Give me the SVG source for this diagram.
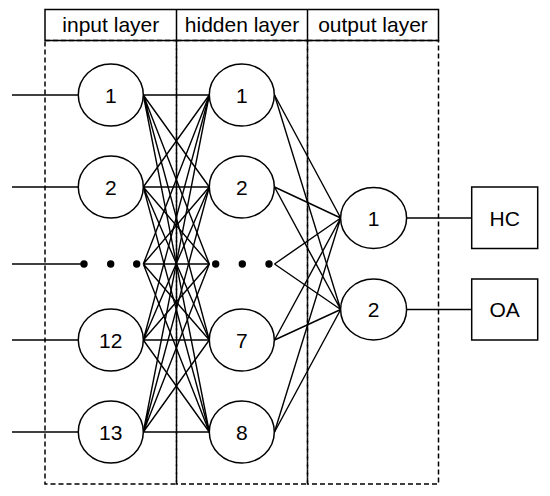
<svg xmlns="http://www.w3.org/2000/svg" width="550" height="496" viewBox="0 0 550 496">
<style>
.n{fill:#fff;stroke:#000;stroke-width:1.5}
.t{font-family:"Liberation Sans",Arial,sans-serif;font-size:21px;fill:#000;text-anchor:middle;dominant-baseline:central}
.h{font-family:"Liberation Sans",Arial,sans-serif;font-size:21px;fill:#000;text-anchor:middle}
.c{stroke:#000;stroke-width:1.4;fill:none}
.d{stroke:#000;stroke-width:1.5;fill:none;stroke-dasharray:5 3}
</style>
<rect width="550" height="496" fill="#fff"/>
<g id="layers">
<rect x="45" y="9.5" width="393.5" height="31" fill="none" stroke="#000" stroke-width="1.5"/>
<line x1="176.5" y1="9.5" x2="176.5" y2="40.5" stroke="#000" stroke-width="1.5"/>
<line x1="307.5" y1="9.5" x2="307.5" y2="40.5" stroke="#000" stroke-width="1.5"/>
<text class="h" x="110.8" y="31.5">input layer</text>
<text class="h" x="242" y="31.5">hidden layer</text>
<text class="h" x="373" y="31.5">output layer</text>
<rect class="d" x="45" y="40.5" width="131.5" height="443.5"/>
<rect class="d" x="176.5" y="40.5" width="131" height="443.5"/>
<rect class="d" x="307.5" y="40.5" width="131" height="443.5"/>
</g>
<g id="connectors" class="c">
<line x1="12" y1="95" x2="78" y2="95"/>
<line x1="12" y1="187" x2="78" y2="187"/>
<line x1="12" y1="264" x2="84" y2="264"/>
<line x1="12" y1="340" x2="78" y2="340"/>
<line x1="12" y1="432" x2="78" y2="432"/>
<path d="M143.3 95L209.3 95M143.3 95L209.3 187M143.3 95L209.3 264M143.3 95L209.3 340M143.3 95L209.3 432"/>
<path d="M143.3 187L209.3 95M143.3 187L209.3 187M143.3 187L209.3 264M143.3 187L209.3 340M143.3 187L209.3 432"/>
<path d="M143.3 264L209.3 95M143.3 264L209.3 187M143.3 264L209.3 264M143.3 264L209.3 340M143.3 264L209.3 432"/>
<path d="M143.3 340L209.3 95M143.3 340L209.3 187M143.3 340L209.3 264M143.3 340L209.3 340M143.3 340L209.3 432"/>
<path d="M143.3 432L209.3 95M143.3 432L209.3 187M143.3 432L209.3 264M143.3 432L209.3 340M143.3 432L209.3 432"/>
<path d="M274.5 95L340.7 218M274.5 187L340.7 218M274.5 264L340.7 218M274.5 340L340.7 218M274.5 432L340.7 218"/>
<path d="M274.5 95L340.7 309.5M274.5 187L340.7 309.5M274.5 264L340.7 309.5M274.5 340L340.7 309.5M274.5 432L340.7 309.5"/>
<line x1="406.5" y1="218" x2="471.7" y2="218"/>
<line x1="406.5" y1="309.5" x2="471.7" y2="309.5"/>
</g>
<g id="dots" fill="#000">
<circle cx="84" cy="264" r="3.7"/>
<circle cx="110.7" cy="264" r="3.7"/>
<circle cx="136.7" cy="264" r="3.7"/>
<circle cx="215.7" cy="264" r="3.7"/>
<circle cx="242.3" cy="264" r="3.7"/>
<circle cx="269" cy="264" r="3.7"/>
</g>
<g id="in1"><ellipse class="n" cx="110.8" cy="95" rx="32.5" ry="31"/><text class="t" x="110.8" y="95">1</text></g>
<g id="in2"><ellipse class="n" cx="110.8" cy="187" rx="32.5" ry="31"/><text class="t" x="110.8" y="187">2</text></g>
<g id="in12"><ellipse class="n" cx="110.8" cy="340" rx="32.5" ry="31"/><text class="t" x="110.8" y="340">12</text></g>
<g id="in13"><ellipse class="n" cx="110.8" cy="432" rx="32.5" ry="31"/><text class="t" x="110.8" y="432">13</text></g>
<g id="hid1"><ellipse class="n" cx="241.8" cy="95" rx="32.5" ry="31"/><text class="t" x="241.8" y="95">1</text></g>
<g id="hid2"><ellipse class="n" cx="241.8" cy="187" rx="32.5" ry="31"/><text class="t" x="241.8" y="187">2</text></g>
<g id="hid7"><ellipse class="n" cx="241.8" cy="340" rx="32.5" ry="31"/><text class="t" x="241.8" y="340">7</text></g>
<g id="hid8"><ellipse class="n" cx="241.8" cy="432" rx="32.5" ry="31"/><text class="t" x="241.8" y="432">8</text></g>
<g id="out1"><ellipse class="n" cx="373.6" cy="218" rx="33" ry="30.5"/><text class="t" x="373.6" y="218">1</text></g>
<g id="out2"><ellipse class="n" cx="373.6" cy="309.5" rx="33" ry="30.5"/><text class="t" x="373.6" y="309.5">2</text></g>
<g id="hc"><rect class="n" x="471.7" y="187" width="66" height="61.5"/><text class="t" x="504.7" y="218">HC</text></g>
<g id="oa"><rect class="n" x="471.7" y="279" width="66" height="61"/><text class="t" x="504.7" y="309.5">OA</text></g>
</svg>
